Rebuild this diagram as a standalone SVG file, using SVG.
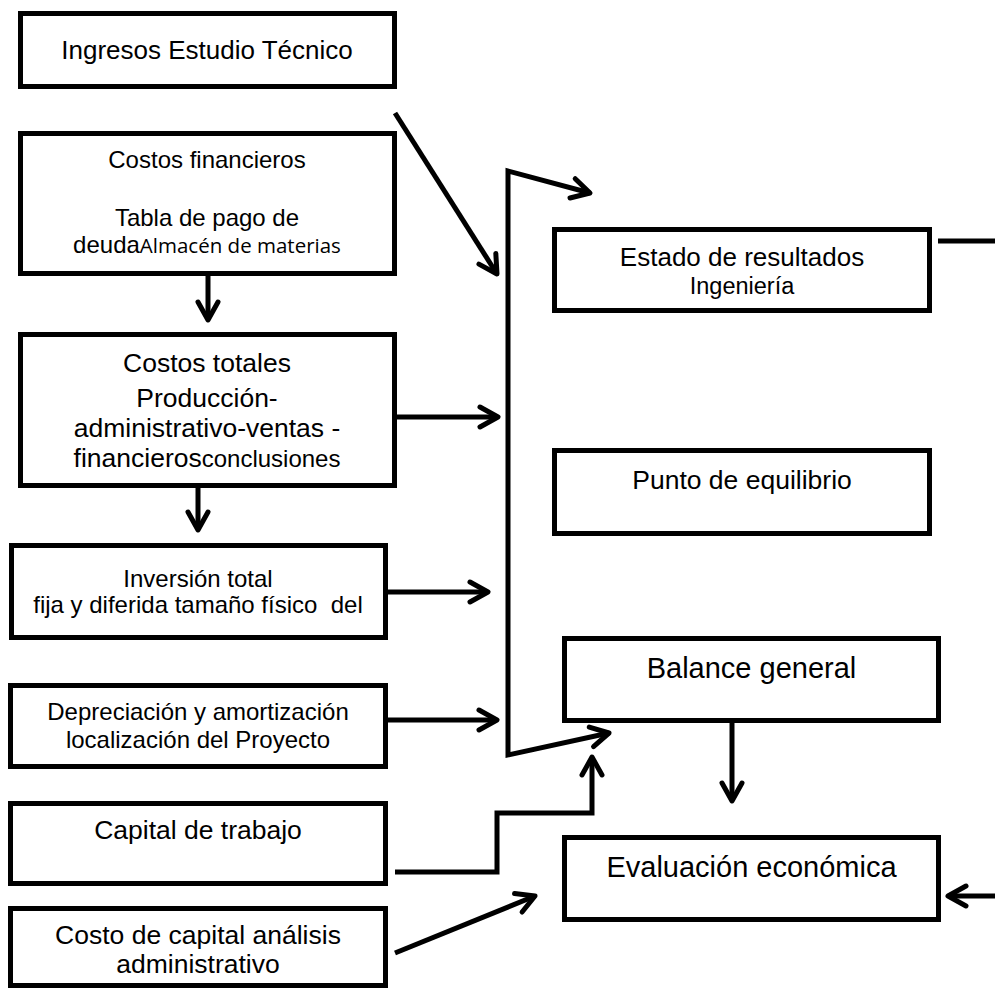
<svg xmlns="http://www.w3.org/2000/svg" width="995" height="990" viewBox="0 0 995 990">
<style>
.box{fill:#fff;stroke:#000;stroke-width:5}
text{font-family:"Liberation Sans",Arial,sans-serif;fill:#000;text-anchor:middle}
.cal{font-family:"Open Sans","Liberation Sans",sans-serif}
.con path{fill:none;stroke:#000;stroke-width:5;stroke-linejoin:miter}
</style>
<defs>
<marker id="ah" markerUnits="userSpaceOnUse" orient="auto-start-reverse" overflow="visible" markerWidth="30" markerHeight="30" refX="0" refY="0">
<path d="M-18,-10 L0,0 L-18,10" fill="none" stroke="#000" stroke-width="5" stroke-linecap="round" stroke-linejoin="round"/>
</marker>
</defs>
<rect width="995" height="990" fill="#fff"/>

<g id="ingresos">
<rect class="box" x="20.5" y="13.5" width="374" height="73"/>
<text x="207" y="59" font-size="26">Ingresos Estudio Técnico</text>
</g>
<g id="costos-financieros">
<rect class="box" x="20.5" y="133.5" width="374" height="140"/>
<text x="207" y="168" font-size="24">Costos financieros</text>
<text x="207" y="226" font-size="24">Tabla de pago de</text>
<text x="207" y="253" font-size="24">deuda<tspan class="cal" font-size="20.5">Almacén de materias</tspan></text>
</g>
<g id="costos-totales">
<rect class="box" x="20.5" y="334.5" width="374" height="151"/>
<text x="207" y="372" font-size="26.5">Costos totales</text>
<text x="207" y="407" font-size="26.5">Producción-</text>
<text x="207" y="437" font-size="26.5">administrativo-ventas -</text>
<text x="207" y="467" font-size="26.5">financieros<tspan font-size="24">conclusiones</tspan></text>
</g>
<g id="inversion">
<rect class="box" x="11.5" y="545.5" width="374" height="92"/>
<text x="198" y="587" font-size="24">Inversión total</text>
<text x="198" y="613" font-size="24" xml:space="preserve">fija y diferida tamaño físico  del</text>
</g>
<g id="depreciacion">
<rect class="box" x="10.5" y="685.5" width="375" height="81"/>
<text x="198" y="720" font-size="24">Depreciación y amortización</text>
<text x="198" y="748" font-size="24">localización del Proyecto</text>
</g>
<g id="capital-trabajo">
<rect class="box" x="10.5" y="803.5" width="375" height="80"/>
<text x="198" y="839" font-size="26.5">Capital de trabajo</text>
</g>
<g id="costo-capital">
<rect class="box" x="10.5" y="908.5" width="375" height="77"/>
<text x="198" y="944" font-size="26.5">Costo de capital análisis</text>
<text x="198" y="973" font-size="26.5">administrativo</text>
</g>
<g id="estado-resultados">
<rect class="box" x="554.5" y="229.5" width="375" height="81"/>
<text x="742" y="266" font-size="26">Estado de resultados</text>
<text x="742" y="294" font-size="23.5">Ingeniería</text>
</g>
<g id="punto-equilibrio">
<rect class="box" x="554.5" y="450.5" width="375" height="83"/>
<text x="742" y="489" font-size="26.5">Punto de equilibrio</text>
</g>
<g id="balance-general">
<rect class="box" x="564.5" y="638.5" width="374" height="82"/>
<text x="751.5" y="678" font-size="29">Balance general</text>
</g>
<g id="evaluacion">
<rect class="box" x="564.5" y="837.5" width="374" height="82"/>
<text x="751.5" y="877" font-size="29">Evaluación económica</text>
</g>

<g id="connectors" class="con">
<path d="M395,113 L497,274" marker-end="url(#ah)"/>
<path d="M208,276 L208,320" marker-end="url(#ah)"/>
<path d="M397,417 L498,417" marker-end="url(#ah)"/>
<path d="M198,488 L198,530" marker-end="url(#ah)"/>
<path d="M388,592 L488,592" marker-end="url(#ah)"/>
<path d="M388,720 L497,720" marker-end="url(#ah)"/>
<path d="M590,193 L508,171 L508,755 L609,733" marker-start="url(#ah)" marker-end="url(#ah)"/>
<path d="M395,872 L497,872 L497,813 L592,813 L592,757" marker-end="url(#ah)"/>
<path d="M395,953 L535,896" marker-end="url(#ah)"/>
<path d="M732,723 L732,801" marker-end="url(#ah)"/>
<path d="M938,241 L995,241"/>
<path d="M995,896 L948,896" marker-end="url(#ah)"/>
</g>
</svg>
